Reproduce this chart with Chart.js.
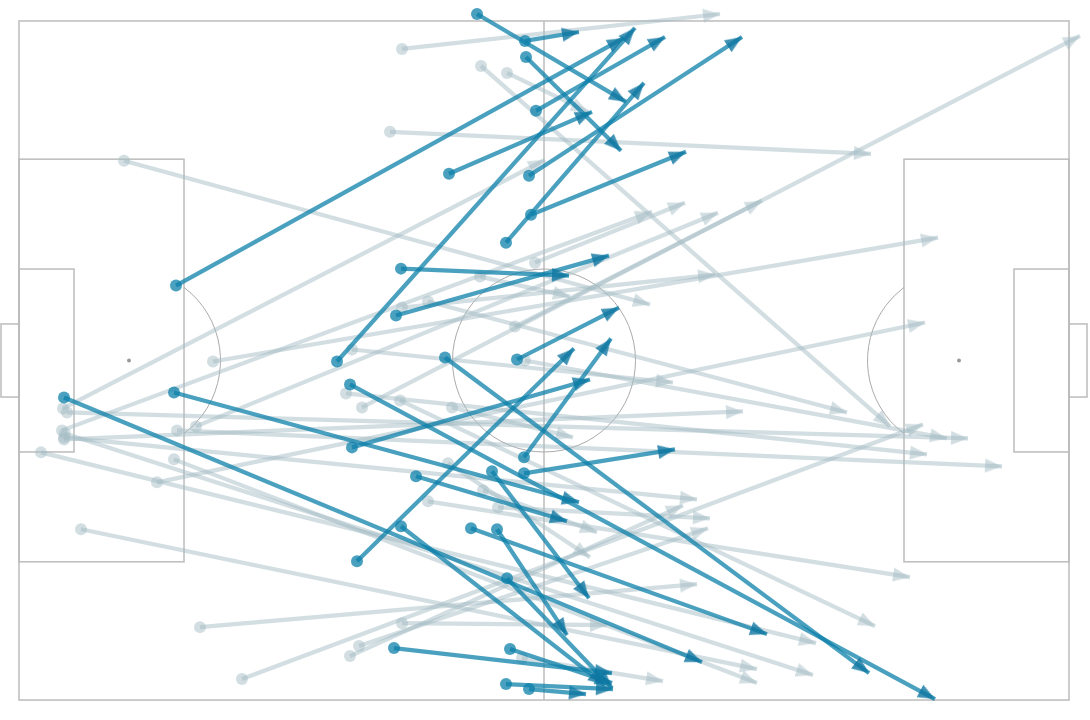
<!DOCTYPE html>
<html>
<head>
<meta charset="utf-8">
<script src="https://cdn.jsdelivr.net/npm/chart.js@4.4.1/dist/chart.umd.min.js"></script>
<style>
  html, body { margin: 0; padding: 0; background: #ffffff; }
  #wrap { width: 1090px; height: 720px; position: relative; }
</style>
</head>
<body>
<div id="wrap"><canvas id="passMap"></canvas></div>
<script>
// pass locations in metres, pitch 105 x 68, y counted from the top touchline
// highlighted passes
const keyStartX = [45.8, 50.6, 50.7, 15.7, 31.8, 51.7, 43.0, 51.0, 48.7, 51.2, 38.2, 37.7, 49.8, 50.5, 50.5, 33.3,
  33.8, 42.6, 33.1, 4.5, 15.5, 39.7, 47.3, 47.8, 45.2, 38.2, 48.8, 37.5, 49.1, 48.7, 51.0];
const keyStartY = [-0.7, 2.0, 3.6, 26.5, 34.1, 9.0, 15.3, 15.5, 22.2, 19.4, 24.8, 29.5, 33.9, 43.7, 45.3, 42.7,
  54.1, 33.7, 36.4, 37.7, 37.2, 45.6, 45.1, 50.9, 50.8, 50.6, 55.8, 62.8, 62.9, 66.4, 66.9];
const keyEndX = [60.7, 56.0, 60.2, 60.5, 61.6, 64.6, 57.3, 72.3, 62.5, 66.7, 55.0, 59.0, 60.0, 59.2, 65.6, 57.1,
  55.5, 85.0, 91.6, 68.3, 56.0, 54.8, 57.0, 54.8, 74.8, 58.6, 59.3, 59.3, 59.3, 59.4, 56.7];
const keyEndY = [8.1, 1.1, 13.0, 1.7, 0.7, 1.6, 9.1, 1.6, 6.2, 13.1, 25.5, 23.5, 28.7, 31.8, 42.9, 35.9,
  32.8, 65.3, 67.9, 64.2, 48.2, 50.1, 57.8, 61.5, 61.4, 66.5, 66.8, 65.3, 66.3, 66.9, 67.4];

// other passes
const restStartX = [38.3, 46.2, 48.8, 37.1, 10.5, 4.4, 34.3, 51.6, 4.3, 17.7, 49.6, 19.4, 38.3, 46.1, 40.9, 13.8,
  33.3, 4.5, 32.7, 50.6, 4.8, 15.8, 43.3, 38.1, 2.2, 47.9, 40.9, 6.2, 4.6, 15.5, 22.3, 33.1, 34.0, 18.1, 38.3,
  50.3, 42.9, 46.4, 4.5];
const restStartY = [2.8, 4.5, 5.2, 11.1, 14.0, 38.8, 38.7, 24.2, 41.0, 40.6, 30.6, 34.1, 28.7, 25.6, 28.1, 46.2,
  32.9, 41.9, 37.3, 34.0, 39.2, 41.0, 38.7, 38.0, 43.2, 48.7, 48.1, 50.9, 41.3, 43.9, 65.9, 63.6, 62.6, 60.7, 60.3,
  63.8, 44.3, 47.0, 41.7];
const restEndX = [70.1, 87.1, 56.9, 85.2, 63.1, 52.6, 106.1, 66.6, 63.3, 69.9, 74.3, 91.9, 69.6, 55.1, 82.8, 90.6,
  65.4, 72.4, 90.8, 92.8, 94.9, 98.3, 55.4, 85.6, 79.7, 69.1, 89.1, 73.8, 79.4, 73.8, 90.4, 66.4, 68.9, 67.8, 58.8,
  64.4, 57.1, 57.8, 67.8];
const restEndY = [-0.7, 40.6, 9.1, 13.3, 28.4, 13.9, 1.5, 18.2, 19.1, 19.2, 18.0, 21.7, 25.4, 27.6, 39.2, 30.2,
  36.2, 39.1, 43.4, 41.8, 41.8, 44.6, 41.7, 60.6, 62.3, 49.8, 55.7, 64.9, 65.5, 66.3, 40.4, 48.5, 50.8, 56.4, 60.5,
  66.1, 53.7, 51.2, 47.9];

const keyColor = 'rgba(14, 128, 170, 0.75)';
const keyHeadColor = 'rgba(14, 118, 160, 0.8)';
const restColor = 'rgba(165, 190, 198, 0.5)';

// arrow head drawn with its tip in the middle of the image, pointing up
function makeHead(color, len, width) {
  const size = Math.ceil(len) * 2 + 2;
  const c = document.createElement('canvas');
  c.width = size;
  c.height = size;
  const g = c.getContext('2d');
  const m = size / 2;
  g.fillStyle = color;
  g.beginPath();
  g.moveTo(m, m);
  g.lineTo(m + width / 2, m + len);
  g.lineTo(m - width / 2, m + len);
  g.closePath();
  g.fill();
  return c;
}

function passSets(sx, sy, ex, ey, color, head, order) {
  return sx.map((_, i) => {
    const rot = Math.atan2(ex[i] - sx[i], -(ey[i] - sy[i])) * 180 / Math.PI;
    return {
      data: [{x: sx[i], y: sy[i]}, {x: ex[i], y: ey[i]}],
      borderColor: color,
      borderWidth: 4.2,
      pointStyle: ['circle', head],
      pointRadius: [6, 9],
      pointRotation: [0, rot],
      pointBackgroundColor: color,
      pointBorderWidth: 0,
      order: order
    };
  });
}

const pitchLines = {
  id: 'pitchLines',
  beforeDatasetsDraw(chart) {
    const {ctx, scales: {x, y}} = chart;
    const px = v => x.getPixelForValue(v);
    const py = v => y.getPixelForValue(v);
    const box = (x0, y0, x1, y1) => ctx.strokeRect(px(x0), py(y0), px(x1) - px(x0), py(y1) - py(y0));
    const r = px(9.15) - px(0);
    ctx.save();
    ctx.strokeStyle = '#bcbcbc';
    ctx.lineWidth = 1.5;
    box(0, 0, 105, 68);
    box(0, 13.84, 16.5, 54.16);
    box(88.5, 13.84, 105, 54.16);
    box(0, 24.84, 5.5, 43.16);
    box(99.5, 24.84, 105, 43.16);
    box(-1.8, 30.34, 0, 37.66);
    box(105, 30.34, 106.8, 37.66);
    ctx.beginPath();
    ctx.moveTo(px(52.5), py(0));
    ctx.lineTo(px(52.5), py(68));
    ctx.stroke();
    ctx.strokeStyle = '#aaaaaa';
    ctx.lineWidth = 1;
    const a = Math.acos(5.5 / 9.15);
    ctx.beginPath();
    ctx.arc(px(52.5), py(34), r, 0, Math.PI * 2);
    ctx.stroke();
    ctx.beginPath();
    ctx.arc(px(11), py(34), r, -a, a);
    ctx.stroke();
    ctx.beginPath();
    ctx.arc(px(94), py(34), r, Math.PI - a, Math.PI + a);
    ctx.stroke();
    ctx.fillStyle = '#999999';
    [11, 94].forEach(s => {
      ctx.beginPath();
      ctx.arc(px(s), py(34), 2, 0, Math.PI * 2);
      ctx.fill();
    });
    ctx.restore();
  }
};

const keyHead = makeHead(keyHeadColor, 17, 14);
const restHead = makeHead(restColor, 17, 14);

const ctx = document.getElementById('passMap').getContext('2d');
const passMap = new Chart(ctx, {
  type: 'line',
  data: {
    datasets: [
      ...passSets(keyStartX, keyStartY, keyEndX, keyEndY, keyColor, keyHead, 0),
      ...passSets(restStartX, restStartY, restEndX, restEndY, restColor, restHead, 1)
    ]
  },
  options: {
    responsive: true,
    maintainAspectRatio: false,
    animation: false,
    events: [],
    layout: { padding: 0, autoPadding: false },
    elements: { line: { tension: 0, fill: false } },
    scales: {
      x: { type: 'linear', display: false, min: -1.9, max: 107.1 },
      y: { type: 'linear', display: false, reverse: true, min: -2.1, max: 70.0 }
    },
    plugins: {
      legend: { display: false },
      tooltip: { enabled: false }
    }
  },
  plugins: [pitchLines]
});
</script>
</body>
</html>
